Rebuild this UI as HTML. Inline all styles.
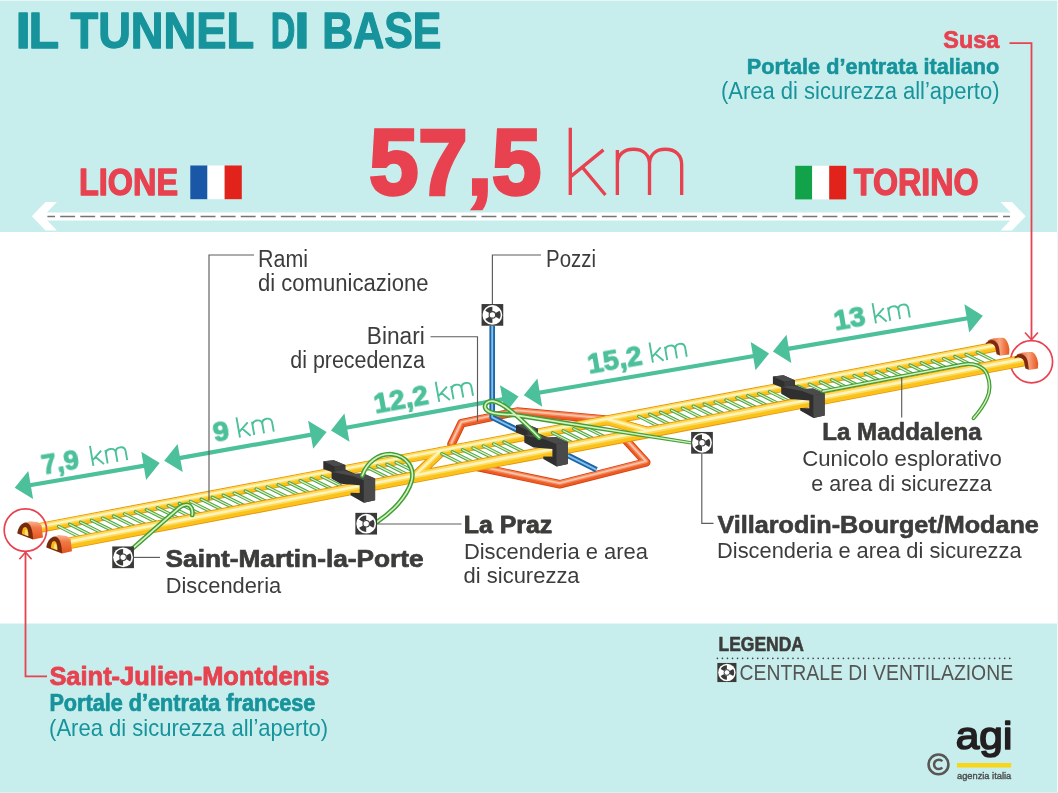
<!DOCTYPE html><html><head><meta charset="utf-8"><title>Il tunnel di base</title><style>html,body{margin:0;padding:0;background:#c7eeed;}svg{display:block}text{filter:url(#nf);font-family:"Liberation Sans",sans-serif;}</style></head><body>
<svg width="1058" height="793" viewBox="0 0 1058 793">
<defs><filter id="nf" x="-10%" y="-25%" width="120%" height="150%"><feOffset dx="0" dy="0"/></filter></defs>
<rect width="1058" height="793" fill="#c7eeed"/>
<rect x="0" y="232" width="1058" height="391.5" fill="#fff"/>
<text x="15.5" y="48.1" font-size="49.4" font-weight="bold" fill="#17939b" text-anchor="start" textLength="15.4" lengthAdjust="spacingAndGlyphs" stroke="#17939b" stroke-width="1.3" stroke-linejoin="round">I</text>
<text x="28.6" y="48.1" font-size="49.4" font-weight="bold" fill="#17939b" text-anchor="start" textLength="30.6" lengthAdjust="spacingAndGlyphs" stroke="#17939b" stroke-width="1.3" stroke-linejoin="round">L</text>
<text x="70.5" y="48.1" font-size="49.4" font-weight="bold" fill="#17939b" text-anchor="start" textLength="183.6" lengthAdjust="spacingAndGlyphs" stroke="#17939b" stroke-width="1.3" stroke-linejoin="round">TUNNEL</text>
<text x="270.8" y="48.1" font-size="49.4" font-weight="bold" fill="#17939b" text-anchor="start" textLength="24.6" lengthAdjust="spacingAndGlyphs" stroke="#17939b" stroke-width="1.3" stroke-linejoin="round">D</text>
<text x="294.2" y="48.1" font-size="49.4" font-weight="bold" fill="#17939b" text-anchor="start" textLength="15.4" lengthAdjust="spacingAndGlyphs" stroke="#17939b" stroke-width="1.3" stroke-linejoin="round">I</text>
<text x="322.3" y="48.1" font-size="49.4" font-weight="bold" fill="#17939b" text-anchor="start" textLength="119.0" lengthAdjust="spacingAndGlyphs" stroke="#17939b" stroke-width="1.3" stroke-linejoin="round">BASE</text>
<text x="999.3" y="48.2" font-size="24" font-weight="bold" fill="#e8414f" text-anchor="end" textLength="56.0" lengthAdjust="spacingAndGlyphs" stroke="#e8414f" stroke-width="0.7" stroke-linejoin="round">Susa</text>
<text x="999.3" y="73.9" font-size="22.6" font-weight="bold" fill="#17939b" text-anchor="end" textLength="252.5" lengthAdjust="spacingAndGlyphs" stroke="#17939b" stroke-width="0.6" stroke-linejoin="round">Portale d’entrata italiano</text>
<text x="999.5" y="98.5" font-size="23.5" font-weight="normal" fill="#17939b" text-anchor="end" textLength="278.5" lengthAdjust="spacingAndGlyphs">(Area di sicurezza all’aperto)</text>
<path d="M1009.5,43.2H1031.5V339" fill="none" stroke="#e8414f" stroke-width="1.8"/>
<path d="M1025,332.5L1031.5,339.8L1037.9,332.5" fill="none" stroke="#e8414f" stroke-width="1.6"/>
<circle cx="1031.5" cy="361.8" r="21.1" fill="none" stroke="#e8414f" stroke-width="1.7"/>
<text x="369.2" y="193.5" font-size="93" font-weight="bold" fill="#e8414f" text-anchor="start" textLength="172.1" lengthAdjust="spacingAndGlyphs" stroke="#e8414f" stroke-width="3.6" stroke-linejoin="miter" stroke-miterlimit="3">57,5</text>
<path d="M0,0V-100M0,-27L50,-67M18,-41.5L53,0M71,0V-67M71,-46C71,-60 81,-68 95,-68C110,-68 119.5,-60 119.5,-45V0M119.5,-45C119.5,-60 129,-68 143.5,-68C158,-68 168,-60 168,-45V0" transform="translate(570.3,195.0) rotate(0) scale(0.6629,0.6730)" fill="none" stroke="#e8414f" stroke-width="5.05" stroke-linejoin="miter"/>
<text x="79.0" y="194.9" font-size="36.2" font-weight="bold" fill="#e8414f" text-anchor="start" textLength="99.0" lengthAdjust="spacingAndGlyphs" stroke="#e8414f" stroke-width="1.3" stroke-linejoin="round">LIONE</text>
<rect x="190.3" y="165.5" width="17.2" height="33.7" fill="#1b57a7"/><rect x="207.5" y="165.5" width="17.2" height="33.7" fill="#fff"/><rect x="224.6" y="165.5" width="17.2" height="33.7" fill="#e2231b"/>
<rect x="795.2" y="165.8" width="17" height="33.6" fill="#12a24a"/><rect x="812.2" y="165.8" width="17" height="33.6" fill="#fff"/><rect x="829.2" y="165.8" width="17" height="33.6" fill="#e2231b"/>
<text x="853.8" y="194.9" font-size="36.2" font-weight="bold" fill="#e8414f" text-anchor="start" textLength="124.7" lengthAdjust="spacingAndGlyphs" stroke="#e8414f" stroke-width="1.3" stroke-linejoin="round">TORINO</text>
<path d="M42,216.5H1015" stroke="#fff" stroke-width="8.2" fill="none"/>
<path d="M31.8,216.3L45.5,202.1H56.9L43.3,216.3L56.9,230.4H45.5Z" fill="#fff"/>
<path d="M1025.7,216.3L1012,202.1H1000.6L1014.2,216.3L1000.6,230.4H1012Z" fill="#fff"/>
<path d="M47.4,216.5H1010" stroke="#757575" stroke-width="1.3" stroke-dasharray="14.9 5.16" stroke-dashoffset="7.26" fill="none"/>
<path d="M29.7,485.2L144.7,465.6" stroke="#4cc09a" stroke-width="4.2" fill="none"/>
<path d="M14.7,487.7L33.1,499.1L28.3,470.9Z" fill="#4cc09a"/>
<path d="M159.7,463.1L146.1,479.9L141.3,451.7Z" fill="#4cc09a"/>
<path d="M179.2,458.1L311.6,434.6" stroke="#4cc09a" stroke-width="4.2" fill="none"/>
<path d="M164.2,460.8L182.7,472.0L177.6,443.9Z" fill="#4cc09a"/>
<path d="M326.6,431.9L313.2,448.8L308.1,420.7Z" fill="#4cc09a"/>
<path d="M346.0,427.8L503.5,399.1" stroke="#4cc09a" stroke-width="4.2" fill="none"/>
<path d="M331.0,430.5L349.5,441.7L344.4,413.5Z" fill="#4cc09a"/>
<path d="M518.5,396.4L505.1,413.4L500.0,385.2Z" fill="#4cc09a"/>
<path d="M538.8,392.7L754.1,356.0" stroke="#4cc09a" stroke-width="4.2" fill="none"/>
<path d="M523.8,395.3L542.2,406.7L537.4,378.5Z" fill="#4cc09a"/>
<path d="M769.1,353.4L755.5,370.2L750.7,342.0Z" fill="#4cc09a"/>
<path d="M787.9,348.9L967.8,318.3" stroke="#4cc09a" stroke-width="4.2" fill="none"/>
<path d="M772.9,351.5L791.3,362.9L786.5,334.7Z" fill="#4cc09a"/>
<path d="M982.8,315.7L969.2,332.5L964.4,304.3Z" fill="#4cc09a"/>
<path d="M451.5,444.2L461.5,423.3L517,411.6L605,419.5" fill="none" stroke="#d9410f" stroke-width="8.60" stroke-linecap="round" stroke-linejoin="round"/>
<path d="M451.5,444.2L461.5,423.3L517,411.6L605,419.5" fill="none" stroke="#ed5c25" stroke-width="6.80" stroke-linecap="round" stroke-linejoin="round"/>
<path d="M451.5,444.2L461.5,423.3L517,411.6L605,419.5" fill="none" stroke="#f4875a" stroke-width="4.47" stroke-linecap="round" stroke-linejoin="round" transform="translate(-0.15,-1.20)"/>
<path d="M451.5,444.2L461.5,423.3L517,411.6L605,419.5" fill="none" stroke="#fac3a8" stroke-width="1.89" stroke-linecap="round" stroke-linejoin="round" transform="translate(-0.15,-1.20)"/>
<path d="M470.5,465.5L559.7,484.3L646.2,462.4L624,438" fill="none" stroke="#d9410f" stroke-width="8.60" stroke-linecap="round" stroke-linejoin="round"/>
<path d="M470.5,465.5L559.7,484.3L646.2,462.4L624,438" fill="none" stroke="#ed5c25" stroke-width="6.80" stroke-linecap="round" stroke-linejoin="round"/>
<path d="M470.5,465.5L559.7,484.3L646.2,462.4L624,438" fill="none" stroke="#f4875a" stroke-width="4.47" stroke-linecap="round" stroke-linejoin="round" transform="translate(-0.15,-1.20)"/>
<path d="M470.5,465.5L559.7,484.3L646.2,462.4L624,438" fill="none" stroke="#fac3a8" stroke-width="1.89" stroke-linecap="round" stroke-linejoin="round" transform="translate(-0.15,-1.20)"/>
<path d="M492.2,326V417.3L596.5,469.8" fill="none" stroke="#1b66a8" stroke-width="5.6" stroke-linejoin="round"/>
<path d="M492.2,326V417.3L596.5,469.8" fill="none" stroke="#86bfe8" stroke-width="1.9" stroke-linejoin="round"/>
<path d="M414.5,477.1L441.0,451.8" fill="none" stroke="#e5940f" stroke-width="10.00" stroke-linecap="round" stroke-linejoin="round"/>
<path d="M607.0,420.3L649.0,432.2" fill="none" stroke="#e5940f" stroke-width="10.00" stroke-linecap="round" stroke-linejoin="round"/>
<path d="M40,527.8L994,347.0" fill="none" stroke="#e5940f" stroke-width="10.00" stroke-linecap="round" stroke-linejoin="round"/>
<path d="M414.5,477.1L441.0,451.8" fill="none" stroke="#fbc21a" stroke-width="8.20" stroke-linecap="round" stroke-linejoin="round"/>
<path d="M607.0,420.3L649.0,432.2" fill="none" stroke="#fbc21a" stroke-width="8.20" stroke-linecap="round" stroke-linejoin="round"/>
<path d="M40,527.8L994,347.0" fill="none" stroke="#fbc21a" stroke-width="8.20" stroke-linecap="round" stroke-linejoin="round"/>
<path d="M414.5,477.1L441.0,451.8" fill="none" stroke="#fddc5c" stroke-width="5.20" stroke-linecap="round" stroke-linejoin="round" transform="translate(-0.15,-1.40)"/>
<path d="M607.0,420.3L649.0,432.2" fill="none" stroke="#fddc5c" stroke-width="5.20" stroke-linecap="round" stroke-linejoin="round" transform="translate(-0.15,-1.40)"/>
<path d="M40,527.8L994,347.0" fill="none" stroke="#fddc5c" stroke-width="5.20" stroke-linecap="round" stroke-linejoin="round" transform="translate(-0.15,-1.40)"/>
<path d="M414.5,477.1L441.0,451.8" fill="none" stroke="#fff4bf" stroke-width="2.20" stroke-linecap="round" stroke-linejoin="round" transform="translate(-0.15,-1.40)"/>
<path d="M607.0,420.3L649.0,432.2" fill="none" stroke="#fff4bf" stroke-width="2.20" stroke-linecap="round" stroke-linejoin="round" transform="translate(-0.15,-1.40)"/>
<path d="M40,527.8L994,347.0" fill="none" stroke="#fff4bf" stroke-width="2.20" stroke-linecap="round" stroke-linejoin="round" transform="translate(-0.15,-1.40)"/>
<path d="M58.5,526.4L85.8,540.1" fill="none" stroke="#4fa843" stroke-width="3.3" stroke-linecap="round" stroke-linejoin="round"/>
<path d="M58.5,526.4L85.8,540.1" fill="none" stroke="#e0f2cc" stroke-width="1.19" stroke-linecap="round" stroke-linejoin="round"/>
<path d="M69.5,524.3L96.8,538.0" fill="none" stroke="#4fa843" stroke-width="3.3" stroke-linecap="round" stroke-linejoin="round"/>
<path d="M69.5,524.3L96.8,538.0" fill="none" stroke="#e0f2cc" stroke-width="1.19" stroke-linecap="round" stroke-linejoin="round"/>
<path d="M80.5,522.2L107.7,535.9" fill="none" stroke="#4fa843" stroke-width="3.3" stroke-linecap="round" stroke-linejoin="round"/>
<path d="M80.5,522.2L107.7,535.9" fill="none" stroke="#e0f2cc" stroke-width="1.19" stroke-linecap="round" stroke-linejoin="round"/>
<path d="M91.4,520.2L118.7,533.8" fill="none" stroke="#4fa843" stroke-width="3.3" stroke-linecap="round" stroke-linejoin="round"/>
<path d="M91.4,520.2L118.7,533.8" fill="none" stroke="#e0f2cc" stroke-width="1.19" stroke-linecap="round" stroke-linejoin="round"/>
<path d="M102.4,518.1L129.6,531.7" fill="none" stroke="#4fa843" stroke-width="3.3" stroke-linecap="round" stroke-linejoin="round"/>
<path d="M102.4,518.1L129.6,531.7" fill="none" stroke="#e0f2cc" stroke-width="1.19" stroke-linecap="round" stroke-linejoin="round"/>
<path d="M113.4,516.0L140.6,529.6" fill="none" stroke="#4fa843" stroke-width="3.3" stroke-linecap="round" stroke-linejoin="round"/>
<path d="M113.4,516.0L140.6,529.6" fill="none" stroke="#e0f2cc" stroke-width="1.19" stroke-linecap="round" stroke-linejoin="round"/>
<path d="M124.4,513.9L151.5,527.5" fill="none" stroke="#4fa843" stroke-width="3.3" stroke-linecap="round" stroke-linejoin="round"/>
<path d="M124.4,513.9L151.5,527.5" fill="none" stroke="#e0f2cc" stroke-width="1.19" stroke-linecap="round" stroke-linejoin="round"/>
<path d="M135.4,511.8L162.5,525.4" fill="none" stroke="#4fa843" stroke-width="3.3" stroke-linecap="round" stroke-linejoin="round"/>
<path d="M135.4,511.8L162.5,525.4" fill="none" stroke="#e0f2cc" stroke-width="1.19" stroke-linecap="round" stroke-linejoin="round"/>
<path d="M146.3,509.8L173.4,523.3" fill="none" stroke="#4fa843" stroke-width="3.3" stroke-linecap="round" stroke-linejoin="round"/>
<path d="M146.3,509.8L173.4,523.3" fill="none" stroke="#e0f2cc" stroke-width="1.19" stroke-linecap="round" stroke-linejoin="round"/>
<path d="M157.3,507.7L184.4,521.2" fill="none" stroke="#4fa843" stroke-width="3.3" stroke-linecap="round" stroke-linejoin="round"/>
<path d="M157.3,507.7L184.4,521.2" fill="none" stroke="#e0f2cc" stroke-width="1.19" stroke-linecap="round" stroke-linejoin="round"/>
<path d="M168.3,505.6L195.3,519.1" fill="none" stroke="#4fa843" stroke-width="3.3" stroke-linecap="round" stroke-linejoin="round"/>
<path d="M168.3,505.6L195.3,519.1" fill="none" stroke="#e0f2cc" stroke-width="1.19" stroke-linecap="round" stroke-linejoin="round"/>
<path d="M179.3,503.5L206.3,517.0" fill="none" stroke="#4fa843" stroke-width="3.3" stroke-linecap="round" stroke-linejoin="round"/>
<path d="M179.3,503.5L206.3,517.0" fill="none" stroke="#e0f2cc" stroke-width="1.19" stroke-linecap="round" stroke-linejoin="round"/>
<path d="M190.3,501.4L217.2,514.9" fill="none" stroke="#4fa843" stroke-width="3.3" stroke-linecap="round" stroke-linejoin="round"/>
<path d="M190.3,501.4L217.2,514.9" fill="none" stroke="#e0f2cc" stroke-width="1.19" stroke-linecap="round" stroke-linejoin="round"/>
<path d="M201.2,499.3L228.2,512.8" fill="none" stroke="#4fa843" stroke-width="3.3" stroke-linecap="round" stroke-linejoin="round"/>
<path d="M201.2,499.3L228.2,512.8" fill="none" stroke="#e0f2cc" stroke-width="1.19" stroke-linecap="round" stroke-linejoin="round"/>
<path d="M212.2,497.3L239.1,510.7" fill="none" stroke="#4fa843" stroke-width="3.3" stroke-linecap="round" stroke-linejoin="round"/>
<path d="M212.2,497.3L239.1,510.7" fill="none" stroke="#e0f2cc" stroke-width="1.19" stroke-linecap="round" stroke-linejoin="round"/>
<path d="M223.2,495.2L250.1,508.6" fill="none" stroke="#4fa843" stroke-width="3.3" stroke-linecap="round" stroke-linejoin="round"/>
<path d="M223.2,495.2L250.1,508.6" fill="none" stroke="#e0f2cc" stroke-width="1.19" stroke-linecap="round" stroke-linejoin="round"/>
<path d="M234.2,493.1L261.0,506.5" fill="none" stroke="#4fa843" stroke-width="3.3" stroke-linecap="round" stroke-linejoin="round"/>
<path d="M234.2,493.1L261.0,506.5" fill="none" stroke="#e0f2cc" stroke-width="1.19" stroke-linecap="round" stroke-linejoin="round"/>
<path d="M245.2,491.0L272.0,504.4" fill="none" stroke="#4fa843" stroke-width="3.3" stroke-linecap="round" stroke-linejoin="round"/>
<path d="M245.2,491.0L272.0,504.4" fill="none" stroke="#e0f2cc" stroke-width="1.19" stroke-linecap="round" stroke-linejoin="round"/>
<path d="M256.1,488.9L282.9,502.3" fill="none" stroke="#4fa843" stroke-width="3.3" stroke-linecap="round" stroke-linejoin="round"/>
<path d="M256.1,488.9L282.9,502.3" fill="none" stroke="#e0f2cc" stroke-width="1.19" stroke-linecap="round" stroke-linejoin="round"/>
<path d="M267.1,486.9L293.9,500.2" fill="none" stroke="#4fa843" stroke-width="3.3" stroke-linecap="round" stroke-linejoin="round"/>
<path d="M267.1,486.9L293.9,500.2" fill="none" stroke="#e0f2cc" stroke-width="1.19" stroke-linecap="round" stroke-linejoin="round"/>
<path d="M278.1,484.8L304.8,498.1" fill="none" stroke="#4fa843" stroke-width="3.3" stroke-linecap="round" stroke-linejoin="round"/>
<path d="M278.1,484.8L304.8,498.1" fill="none" stroke="#e0f2cc" stroke-width="1.19" stroke-linecap="round" stroke-linejoin="round"/>
<path d="M289.1,482.7L315.8,496.0" fill="none" stroke="#4fa843" stroke-width="3.3" stroke-linecap="round" stroke-linejoin="round"/>
<path d="M289.1,482.7L315.8,496.0" fill="none" stroke="#e0f2cc" stroke-width="1.19" stroke-linecap="round" stroke-linejoin="round"/>
<path d="M300.1,480.6L326.7,493.9" fill="none" stroke="#4fa843" stroke-width="3.3" stroke-linecap="round" stroke-linejoin="round"/>
<path d="M300.1,480.6L326.7,493.9" fill="none" stroke="#e0f2cc" stroke-width="1.19" stroke-linecap="round" stroke-linejoin="round"/>
<path d="M311.0,478.5L337.7,491.8" fill="none" stroke="#4fa843" stroke-width="3.3" stroke-linecap="round" stroke-linejoin="round"/>
<path d="M311.0,478.5L337.7,491.8" fill="none" stroke="#e0f2cc" stroke-width="1.19" stroke-linecap="round" stroke-linejoin="round"/>
<path d="M322.0,476.4L348.6,489.7" fill="none" stroke="#4fa843" stroke-width="3.3" stroke-linecap="round" stroke-linejoin="round"/>
<path d="M322.0,476.4L348.6,489.7" fill="none" stroke="#e0f2cc" stroke-width="1.19" stroke-linecap="round" stroke-linejoin="round"/>
<path d="M368.0,467.7L394.5,481.0" fill="none" stroke="#4fa843" stroke-width="3.3" stroke-linecap="round" stroke-linejoin="round"/>
<path d="M368.0,467.7L394.5,481.0" fill="none" stroke="#e0f2cc" stroke-width="1.19" stroke-linecap="round" stroke-linejoin="round"/>
<path d="M377.5,465.9L403.9,479.1" fill="none" stroke="#4fa843" stroke-width="3.3" stroke-linecap="round" stroke-linejoin="round"/>
<path d="M377.5,465.9L403.9,479.1" fill="none" stroke="#e0f2cc" stroke-width="1.19" stroke-linecap="round" stroke-linejoin="round"/>
<path d="M386.8,464.2L413.2,477.4" fill="none" stroke="#4fa843" stroke-width="3.3" stroke-linecap="round" stroke-linejoin="round"/>
<path d="M386.8,464.2L413.2,477.4" fill="none" stroke="#e0f2cc" stroke-width="1.19" stroke-linecap="round" stroke-linejoin="round"/>
<path d="M396.0,462.4L422.4,475.6" fill="none" stroke="#4fa843" stroke-width="3.3" stroke-linecap="round" stroke-linejoin="round"/>
<path d="M396.0,462.4L422.4,475.6" fill="none" stroke="#e0f2cc" stroke-width="1.19" stroke-linecap="round" stroke-linejoin="round"/>
<path d="M441.8,453.7L468.1,466.9" fill="none" stroke="#4fa843" stroke-width="3.3" stroke-linecap="round" stroke-linejoin="round"/>
<path d="M441.8,453.7L468.1,466.9" fill="none" stroke="#e0f2cc" stroke-width="1.19" stroke-linecap="round" stroke-linejoin="round"/>
<path d="M452.2,451.8L478.4,464.9" fill="none" stroke="#4fa843" stroke-width="3.3" stroke-linecap="round" stroke-linejoin="round"/>
<path d="M452.2,451.8L478.4,464.9" fill="none" stroke="#e0f2cc" stroke-width="1.19" stroke-linecap="round" stroke-linejoin="round"/>
<path d="M462.5,449.8L488.7,462.9" fill="none" stroke="#4fa843" stroke-width="3.3" stroke-linecap="round" stroke-linejoin="round"/>
<path d="M462.5,449.8L488.7,462.9" fill="none" stroke="#e0f2cc" stroke-width="1.19" stroke-linecap="round" stroke-linejoin="round"/>
<path d="M472.9,447.9L499.0,460.9" fill="none" stroke="#4fa843" stroke-width="3.3" stroke-linecap="round" stroke-linejoin="round"/>
<path d="M472.9,447.9L499.0,460.9" fill="none" stroke="#e0f2cc" stroke-width="1.19" stroke-linecap="round" stroke-linejoin="round"/>
<path d="M483.2,445.9L509.3,459.0" fill="none" stroke="#4fa843" stroke-width="3.3" stroke-linecap="round" stroke-linejoin="round"/>
<path d="M483.2,445.9L509.3,459.0" fill="none" stroke="#e0f2cc" stroke-width="1.19" stroke-linecap="round" stroke-linejoin="round"/>
<path d="M493.6,443.9L519.7,457.0" fill="none" stroke="#4fa843" stroke-width="3.3" stroke-linecap="round" stroke-linejoin="round"/>
<path d="M493.6,443.9L519.7,457.0" fill="none" stroke="#e0f2cc" stroke-width="1.19" stroke-linecap="round" stroke-linejoin="round"/>
<path d="M503.9,442.0L530.0,455.0" fill="none" stroke="#4fa843" stroke-width="3.3" stroke-linecap="round" stroke-linejoin="round"/>
<path d="M503.9,442.0L530.0,455.0" fill="none" stroke="#e0f2cc" stroke-width="1.19" stroke-linecap="round" stroke-linejoin="round"/>
<path d="M552.5,432.8L578.4,445.7" fill="none" stroke="#4fa843" stroke-width="3.3" stroke-linecap="round" stroke-linejoin="round"/>
<path d="M552.5,432.8L578.4,445.7" fill="none" stroke="#e0f2cc" stroke-width="1.19" stroke-linecap="round" stroke-linejoin="round"/>
<path d="M563.1,430.7L589.0,443.7" fill="none" stroke="#4fa843" stroke-width="3.3" stroke-linecap="round" stroke-linejoin="round"/>
<path d="M563.1,430.7L589.0,443.7" fill="none" stroke="#e0f2cc" stroke-width="1.19" stroke-linecap="round" stroke-linejoin="round"/>
<path d="M573.7,428.7L599.6,441.7" fill="none" stroke="#4fa843" stroke-width="3.3" stroke-linecap="round" stroke-linejoin="round"/>
<path d="M573.7,428.7L599.6,441.7" fill="none" stroke="#e0f2cc" stroke-width="1.19" stroke-linecap="round" stroke-linejoin="round"/>
<path d="M584.3,426.7L610.2,439.6" fill="none" stroke="#4fa843" stroke-width="3.3" stroke-linecap="round" stroke-linejoin="round"/>
<path d="M584.3,426.7L610.2,439.6" fill="none" stroke="#e0f2cc" stroke-width="1.19" stroke-linecap="round" stroke-linejoin="round"/>
<path d="M638.7,416.4L664.4,429.3" fill="none" stroke="#4fa843" stroke-width="3.3" stroke-linecap="round" stroke-linejoin="round"/>
<path d="M638.7,416.4L664.4,429.3" fill="none" stroke="#e0f2cc" stroke-width="1.19" stroke-linecap="round" stroke-linejoin="round"/>
<path d="M649.6,414.3L675.3,427.2" fill="none" stroke="#4fa843" stroke-width="3.3" stroke-linecap="round" stroke-linejoin="round"/>
<path d="M649.6,414.3L675.3,427.2" fill="none" stroke="#e0f2cc" stroke-width="1.19" stroke-linecap="round" stroke-linejoin="round"/>
<path d="M660.5,412.3L686.1,425.1" fill="none" stroke="#4fa843" stroke-width="3.3" stroke-linecap="round" stroke-linejoin="round"/>
<path d="M660.5,412.3L686.1,425.1" fill="none" stroke="#e0f2cc" stroke-width="1.19" stroke-linecap="round" stroke-linejoin="round"/>
<path d="M671.4,410.2L697.0,423.0" fill="none" stroke="#4fa843" stroke-width="3.3" stroke-linecap="round" stroke-linejoin="round"/>
<path d="M671.4,410.2L697.0,423.0" fill="none" stroke="#e0f2cc" stroke-width="1.19" stroke-linecap="round" stroke-linejoin="round"/>
<path d="M682.3,408.1L707.9,420.9" fill="none" stroke="#4fa843" stroke-width="3.3" stroke-linecap="round" stroke-linejoin="round"/>
<path d="M682.3,408.1L707.9,420.9" fill="none" stroke="#e0f2cc" stroke-width="1.19" stroke-linecap="round" stroke-linejoin="round"/>
<path d="M693.2,406.1L718.7,418.8" fill="none" stroke="#4fa843" stroke-width="3.3" stroke-linecap="round" stroke-linejoin="round"/>
<path d="M693.2,406.1L718.7,418.8" fill="none" stroke="#e0f2cc" stroke-width="1.19" stroke-linecap="round" stroke-linejoin="round"/>
<path d="M704.1,404.0L729.6,416.8" fill="none" stroke="#4fa843" stroke-width="3.3" stroke-linecap="round" stroke-linejoin="round"/>
<path d="M704.1,404.0L729.6,416.8" fill="none" stroke="#e0f2cc" stroke-width="1.19" stroke-linecap="round" stroke-linejoin="round"/>
<path d="M715.0,401.9L740.5,414.7" fill="none" stroke="#4fa843" stroke-width="3.3" stroke-linecap="round" stroke-linejoin="round"/>
<path d="M715.0,401.9L740.5,414.7" fill="none" stroke="#e0f2cc" stroke-width="1.19" stroke-linecap="round" stroke-linejoin="round"/>
<path d="M725.9,399.9L751.4,412.6" fill="none" stroke="#4fa843" stroke-width="3.3" stroke-linecap="round" stroke-linejoin="round"/>
<path d="M725.9,399.9L751.4,412.6" fill="none" stroke="#e0f2cc" stroke-width="1.19" stroke-linecap="round" stroke-linejoin="round"/>
<path d="M736.8,397.8L762.2,410.5" fill="none" stroke="#4fa843" stroke-width="3.3" stroke-linecap="round" stroke-linejoin="round"/>
<path d="M736.8,397.8L762.2,410.5" fill="none" stroke="#e0f2cc" stroke-width="1.19" stroke-linecap="round" stroke-linejoin="round"/>
<path d="M747.7,395.7L773.1,408.4" fill="none" stroke="#4fa843" stroke-width="3.3" stroke-linecap="round" stroke-linejoin="round"/>
<path d="M747.7,395.7L773.1,408.4" fill="none" stroke="#e0f2cc" stroke-width="1.19" stroke-linecap="round" stroke-linejoin="round"/>
<path d="M758.6,393.7L784.0,406.4" fill="none" stroke="#4fa843" stroke-width="3.3" stroke-linecap="round" stroke-linejoin="round"/>
<path d="M758.6,393.7L784.0,406.4" fill="none" stroke="#e0f2cc" stroke-width="1.19" stroke-linecap="round" stroke-linejoin="round"/>
<path d="M769.5,391.6L794.8,404.3" fill="none" stroke="#4fa843" stroke-width="3.3" stroke-linecap="round" stroke-linejoin="round"/>
<path d="M769.5,391.6L794.8,404.3" fill="none" stroke="#e0f2cc" stroke-width="1.19" stroke-linecap="round" stroke-linejoin="round"/>
<path d="M798.0,386.2L823.3,398.8" fill="none" stroke="#4fa843" stroke-width="3.3" stroke-linecap="round" stroke-linejoin="round"/>
<path d="M798.0,386.2L823.3,398.8" fill="none" stroke="#e0f2cc" stroke-width="1.19" stroke-linecap="round" stroke-linejoin="round"/>
<path d="M809.2,384.1L834.4,396.7" fill="none" stroke="#4fa843" stroke-width="3.3" stroke-linecap="round" stroke-linejoin="round"/>
<path d="M809.2,384.1L834.4,396.7" fill="none" stroke="#e0f2cc" stroke-width="1.19" stroke-linecap="round" stroke-linejoin="round"/>
<path d="M820.4,382.0L845.6,394.6" fill="none" stroke="#4fa843" stroke-width="3.3" stroke-linecap="round" stroke-linejoin="round"/>
<path d="M820.4,382.0L845.6,394.6" fill="none" stroke="#e0f2cc" stroke-width="1.19" stroke-linecap="round" stroke-linejoin="round"/>
<path d="M831.6,379.8L856.8,392.4" fill="none" stroke="#4fa843" stroke-width="3.3" stroke-linecap="round" stroke-linejoin="round"/>
<path d="M831.6,379.8L856.8,392.4" fill="none" stroke="#e0f2cc" stroke-width="1.19" stroke-linecap="round" stroke-linejoin="round"/>
<path d="M842.8,377.7L867.9,390.3" fill="none" stroke="#4fa843" stroke-width="3.3" stroke-linecap="round" stroke-linejoin="round"/>
<path d="M842.8,377.7L867.9,390.3" fill="none" stroke="#e0f2cc" stroke-width="1.19" stroke-linecap="round" stroke-linejoin="round"/>
<path d="M854.0,375.6L879.1,388.1" fill="none" stroke="#4fa843" stroke-width="3.3" stroke-linecap="round" stroke-linejoin="round"/>
<path d="M854.0,375.6L879.1,388.1" fill="none" stroke="#e0f2cc" stroke-width="1.19" stroke-linecap="round" stroke-linejoin="round"/>
<path d="M865.2,373.5L890.3,386.0" fill="none" stroke="#4fa843" stroke-width="3.3" stroke-linecap="round" stroke-linejoin="round"/>
<path d="M865.2,373.5L890.3,386.0" fill="none" stroke="#e0f2cc" stroke-width="1.19" stroke-linecap="round" stroke-linejoin="round"/>
<path d="M876.4,371.3L901.4,383.9" fill="none" stroke="#4fa843" stroke-width="3.3" stroke-linecap="round" stroke-linejoin="round"/>
<path d="M876.4,371.3L901.4,383.9" fill="none" stroke="#e0f2cc" stroke-width="1.19" stroke-linecap="round" stroke-linejoin="round"/>
<path d="M887.6,369.2L912.6,381.7" fill="none" stroke="#4fa843" stroke-width="3.3" stroke-linecap="round" stroke-linejoin="round"/>
<path d="M887.6,369.2L912.6,381.7" fill="none" stroke="#e0f2cc" stroke-width="1.19" stroke-linecap="round" stroke-linejoin="round"/>
<path d="M898.8,367.1L923.8,379.6" fill="none" stroke="#4fa843" stroke-width="3.3" stroke-linecap="round" stroke-linejoin="round"/>
<path d="M898.8,367.1L923.8,379.6" fill="none" stroke="#e0f2cc" stroke-width="1.19" stroke-linecap="round" stroke-linejoin="round"/>
<path d="M910.0,365.0L934.9,377.4" fill="none" stroke="#4fa843" stroke-width="3.3" stroke-linecap="round" stroke-linejoin="round"/>
<path d="M910.0,365.0L934.9,377.4" fill="none" stroke="#e0f2cc" stroke-width="1.19" stroke-linecap="round" stroke-linejoin="round"/>
<path d="M921.2,362.8L946.1,375.3" fill="none" stroke="#4fa843" stroke-width="3.3" stroke-linecap="round" stroke-linejoin="round"/>
<path d="M921.2,362.8L946.1,375.3" fill="none" stroke="#e0f2cc" stroke-width="1.19" stroke-linecap="round" stroke-linejoin="round"/>
<path d="M932.4,360.7L957.3,373.2" fill="none" stroke="#4fa843" stroke-width="3.3" stroke-linecap="round" stroke-linejoin="round"/>
<path d="M932.4,360.7L957.3,373.2" fill="none" stroke="#e0f2cc" stroke-width="1.19" stroke-linecap="round" stroke-linejoin="round"/>
<path d="M943.6,358.6L968.4,371.0" fill="none" stroke="#4fa843" stroke-width="3.3" stroke-linecap="round" stroke-linejoin="round"/>
<path d="M943.6,358.6L968.4,371.0" fill="none" stroke="#e0f2cc" stroke-width="1.19" stroke-linecap="round" stroke-linejoin="round"/>
<path d="M954.8,356.5L979.6,368.9" fill="none" stroke="#4fa843" stroke-width="3.3" stroke-linecap="round" stroke-linejoin="round"/>
<path d="M954.8,356.5L979.6,368.9" fill="none" stroke="#e0f2cc" stroke-width="1.19" stroke-linecap="round" stroke-linejoin="round"/>
<path d="M966.0,354.4L990.8,366.7" fill="none" stroke="#4fa843" stroke-width="3.3" stroke-linecap="round" stroke-linejoin="round"/>
<path d="M966.0,354.4L990.8,366.7" fill="none" stroke="#e0f2cc" stroke-width="1.19" stroke-linecap="round" stroke-linejoin="round"/>
<path d="M977.2,352.2L1001.9,364.6" fill="none" stroke="#4fa843" stroke-width="3.3" stroke-linecap="round" stroke-linejoin="round"/>
<path d="M977.2,352.2L1001.9,364.6" fill="none" stroke="#e0f2cc" stroke-width="1.19" stroke-linecap="round" stroke-linejoin="round"/>
<path d="M414.5,477.1L429.1,463.2" fill="none" stroke="#e5940f" stroke-width="10.00" stroke-linecap="butt" stroke-linejoin="round"/>
<path d="M625.9,425.7L649.0,432.2" fill="none" stroke="#e5940f" stroke-width="10.00" stroke-linecap="butt" stroke-linejoin="round"/>
<path d="M68,543.5L1023,360.6" fill="none" stroke="#e5940f" stroke-width="11.80" stroke-linecap="round" stroke-linejoin="round"/>
<path d="M414.5,477.1L429.1,463.2" fill="none" stroke="#fbc21a" stroke-width="8.20" stroke-linecap="butt" stroke-linejoin="round"/>
<path d="M625.9,425.7L649.0,432.2" fill="none" stroke="#fbc21a" stroke-width="8.20" stroke-linecap="butt" stroke-linejoin="round"/>
<path d="M68,543.5L1023,360.6" fill="none" stroke="#fbc21a" stroke-width="10.00" stroke-linecap="round" stroke-linejoin="round"/>
<path d="M414.5,477.1L429.1,463.2" fill="none" stroke="#fddc5c" stroke-width="5.20" stroke-linecap="butt" stroke-linejoin="round" transform="translate(-0.15,-1.40)"/>
<path d="M625.9,425.7L649.0,432.2" fill="none" stroke="#fddc5c" stroke-width="5.20" stroke-linecap="butt" stroke-linejoin="round" transform="translate(-0.15,-1.40)"/>
<path d="M68,543.5L1023,360.6" fill="none" stroke="#fddc5c" stroke-width="6.14" stroke-linecap="round" stroke-linejoin="round" transform="translate(-0.15,-1.65)"/>
<path d="M414.5,477.1L429.1,463.2" fill="none" stroke="#fff4bf" stroke-width="2.20" stroke-linecap="butt" stroke-linejoin="round" transform="translate(-0.15,-1.40)"/>
<path d="M625.9,425.7L649.0,432.2" fill="none" stroke="#fff4bf" stroke-width="2.20" stroke-linecap="butt" stroke-linejoin="round" transform="translate(-0.15,-1.40)"/>
<path d="M68,543.5L1023,360.6" fill="none" stroke="#fff4bf" stroke-width="2.60" stroke-linecap="round" stroke-linejoin="round" transform="translate(-0.15,-1.65)"/>
<defs><linearGradient id="pg" x1="0" x2="1" y1="0" y2="0"><stop offset="0" stop-color="#e2501c"/><stop offset=".55" stop-color="#f7a580"/><stop offset=".75" stop-color="#f08050"/><stop offset="1" stop-color="#e8561f"/></linearGradient><linearGradient id="pl" x1="0" x2="0" y1="0" y2="1"><stop offset="0" stop-color="#f9b596"/><stop offset=".35" stop-color="#f07a48"/><stop offset="1" stop-color="#e4521f"/></linearGradient></defs>
<g transform="translate(0.0,0.0)">
<path d="M25.9,522.6L29.6,521.2L37.8,522L41.6,525.6L43,537.4L33,539.5L31,530L29,524.8Z" fill="url(#pl)"/>
<path d="M17.3,533.6C17.6,528.5 21,522.8 25.9,522.5C30.5,522.8 32.8,530 33.1,539.5Z" fill="#7a2a0c"/>
<path d="M22,534C22,529.8 23.2,527.2 25.2,527.1C27.3,527.4 28.4,530.6 28.5,536.3Z" fill="#f5b915"/>
<path d="M24.8,534.7C24.8,531.2 25.4,529.3 26.3,529.4C27.4,529.8 27.9,532 28,536Z" fill="#fff2a6" opacity=".75"/>
</g>
<g transform="translate(29.0,13.9)">
<path d="M25.9,522.6L29.6,521.2L37.8,522L41.6,525.6L43,537.4L33,539.5L31,530L29,524.8Z" fill="url(#pl)"/>
<path d="M17.3,533.6C17.6,528.5 21,522.8 25.9,522.5C30.5,522.8 32.8,530 33.1,539.5Z" fill="#7a2a0c"/>
<path d="M22,534C22,529.8 23.2,527.2 25.2,527.1C27.3,527.4 28.4,530.6 28.5,536.3Z" fill="#f5b915"/>
<path d="M24.8,534.7C24.8,531.2 25.4,529.3 26.3,529.4C27.4,529.8 27.9,532 28,536Z" fill="#fff2a6" opacity=".75"/>
</g>
<g transform="translate(0.0,0.0)">
<path d="M987.9,340.8C990,338.6 996,337.6 1003.3,337.8C1006,338.6 1008.6,343 1009.4,349.2L1009.1,354.4L1000,355.8L996,346Z" fill="url(#pg)"/>
<path d="M985.3,344.4C986,342 988.6,340.1 991.7,339.9C996,340.2 998.6,344 999.2,348.5L1000.1,355.6L996.6,354.3L995.2,347.2C994.6,345 992.6,343.4 990,343.2C988,343.2 986.4,343.8 985.3,344.4Z" fill="#7e2a10"/>
</g>
<g transform="translate(28.8,14.2)">
<path d="M987.9,340.8C990,338.6 996,337.6 1003.3,337.8C1006,338.6 1008.6,343 1009.4,349.2L1009.1,354.4L1000,355.8L996,346Z" fill="url(#pg)"/>
<path d="M985.3,344.4C986,342 988.6,340.1 991.7,339.9C996,340.2 998.6,344 999.2,348.5L1000.1,355.6L996.6,354.3L995.2,347.2C994.6,345 992.6,343.4 990,343.2C988,343.2 986.4,343.8 985.3,344.4Z" fill="#7e2a10"/>
</g>
<g transform="translate(323.3,461.3)">
<path d="M0,0L10.6,-1.1L22,3.8V8.3L31.8,12.5L40.2,12.1L51.8,17.2V39L40.5,41.5L27.3,34L27.3,31.5L36.4,31.8V24L17.4,22.5L8.3,17.4V10.8L0,7.6Z" fill="#2f2f2f"/>
<path d="M0,0L10.6,-1.1L22,3.8L11.4,5.2Z" fill="#4b4b4b"/>
<path d="M8.6,10.6L20,8.8L31.8,12.5L40.2,12.1L51.8,17.2L40.4,18.9L29,14.6Z" fill="#4b4b4b"/>
<path d="M11.4,5.2L22,3.8V8.6L11.4,10.2Z" fill="#3c3c3c"/>
<path d="M40.4,18.9L51.8,17.2V39L40.5,41.5Z" fill="#4a4a4a"/>
</g>
<g transform="translate(516.0,425.0)">
<path d="M0,0L10.6,-1.1L22,3.8V8.3L31.8,12.5L40.2,12.1L51.8,17.2V39L40.5,41.5L27.3,34L27.3,31.5L36.4,31.8V24L17.4,22.5L8.3,17.4V10.8L0,7.6Z" fill="#2f2f2f"/>
<path d="M0,0L10.6,-1.1L22,3.8L11.4,5.2Z" fill="#4b4b4b"/>
<path d="M8.6,10.6L20,8.8L31.8,12.5L40.2,12.1L51.8,17.2L40.4,18.9L29,14.6Z" fill="#4b4b4b"/>
<path d="M11.4,5.2L22,3.8V8.6L11.4,10.2Z" fill="#3c3c3c"/>
<path d="M40.4,18.9L51.8,17.2V39L40.5,41.5Z" fill="#4a4a4a"/>
</g>
<g transform="translate(772.9,376.4)">
<path d="M0,0L10.6,-1.1L22,3.8V8.3L31.8,12.5L40.2,12.1L51.8,17.2V39L40.5,41.5L27.3,34L27.3,31.5L36.4,31.8V24L17.4,22.5L8.3,17.4V10.8L0,7.6Z" fill="#2f2f2f"/>
<path d="M0,0L10.6,-1.1L22,3.8L11.4,5.2Z" fill="#4b4b4b"/>
<path d="M8.6,10.6L20,8.8L31.8,12.5L40.2,12.1L51.8,17.2L40.4,18.9L29,14.6Z" fill="#4b4b4b"/>
<path d="M11.4,5.2L22,3.8V8.6L11.4,10.2Z" fill="#3c3c3c"/>
<path d="M40.4,18.9L51.8,17.2V39L40.5,41.5Z" fill="#4a4a4a"/>
</g>
<path d="M132.5,548.6C149,534 166,519 179.5,507.5C184.5,503.5 189.5,504 191.5,508C192.6,510.5 192.6,513 192.2,515" fill="none" stroke="#3e9f35" stroke-width="4.6" stroke-linecap="round" stroke-linejoin="round"/>
<path d="M132.5,548.6C149,534 166,519 179.5,507.5C184.5,503.5 189.5,504 191.5,508C192.6,510.5 192.6,513 192.2,515" fill="none" stroke="#d9efc0" stroke-width="1.66" stroke-linecap="round" stroke-linejoin="round"/>
<path d="M377,522C392,512 407,497 411.6,481C415,468 407,456 392,454.2C378,453 366.5,463 362.3,475.6" fill="none" stroke="#3e9f35" stroke-width="4.6" stroke-linecap="round" stroke-linejoin="round"/>
<path d="M377,522C392,512 407,497 411.6,481C415,468 407,456 392,454.2C378,453 366.5,463 362.3,475.6" fill="none" stroke="#d9efc0" stroke-width="1.66" stroke-linecap="round" stroke-linejoin="round"/>
<path d="M539.2,437.5C531,429 522,420 512.7,412.5C505,406 498,402 493,401.2C488,400.8 484.5,403.5 485.1,407.2C485.6,410.5 490,413.3 500.6,414.1C506,414.4 511,414.6 515.7,415.1L560,422.1" fill="none" stroke="#3e9f35" stroke-width="4.8" stroke-linecap="round" stroke-linejoin="round"/>
<path d="M539.2,437.5C531,429 522,420 512.7,412.5C505,406 498,402 493,401.2C488,400.8 484.5,403.5 485.1,407.2C485.6,410.5 490,413.3 500.6,414.1C506,414.4 511,414.6 515.7,415.1L560,422.1" fill="none" stroke="#d9efc0" stroke-width="1.73" stroke-linecap="round" stroke-linejoin="round"/>
<path d="M557.63,424.15L691.25,444.43L691.75,441.27L558.37,419.41Z" fill="#3e9f35"/>
<path d="M557.87,422.63L691.41,443.42L691.59,442.28L558.13,420.92Z" fill="#d9efc0"/>
<path d="M823,391.3L962,364.7C972,362.8 983.5,365 987.3,375C990.5,383.5 990,392 986.9,398.5C984,405 979,412 973.5,418.2" fill="none" stroke="#3e9f35" stroke-width="3.9" stroke-linecap="round" stroke-linejoin="round"/>
<path d="M823,391.3L962,364.7C972,362.8 983.5,365 987.3,375C990.5,383.5 990,392 986.9,398.5C984,405 979,412 973.5,418.2" fill="none" stroke="#d9efc0" stroke-width="1.40" stroke-linecap="round" stroke-linejoin="round"/>
<path d="M254,255H209V500.3" fill="none" stroke="#5c5c5c" stroke-width="1.15"/>
<path d="M430.5,336.7H477.5V421.5" fill="none" stroke="#5c5c5c" stroke-width="1.15"/>
<path d="M541,255H492.4V305" fill="none" stroke="#5c5c5c" stroke-width="1.15"/>
<g transform="translate(123.1,557.3) scale(1.000)">
<rect x="-10.85" y="-10.85" width="21.7" height="21.7" fill="#3a3a39"/>
<circle r="9.9" fill="#fff"/>
<path d="M3.12,-1.80 L7.10,-4.10 A8.2,8.2 0 0 1 7.10,4.10 L3.12,1.80 A3.6,3.6 0 0 0 3.12,-1.80Z" fill="#3a3a39"/>
<path d="M0.00,3.60 L0.00,8.20 A8.2,8.2 0 0 1 -7.10,4.10 L-3.12,1.80 A3.6,3.6 0 0 0 0.00,3.60Z" fill="#3a3a39"/>
<path d="M-3.12,-1.80 L-7.10,-4.10 A8.2,8.2 0 0 1 -0.00,-8.20 L-0.00,-3.60 A3.6,3.6 0 0 0 -3.12,-1.80Z" fill="#3a3a39"/>
<circle r="3.25" fill="#fff" stroke="#3a3a39" stroke-width="1.1"/>
</g>
<g transform="translate(366.2,523.7) scale(1.000)">
<rect x="-10.85" y="-10.85" width="21.7" height="21.7" fill="#3a3a39"/>
<circle r="9.9" fill="#fff"/>
<path d="M3.12,-1.80 L7.10,-4.10 A8.2,8.2 0 0 1 7.10,4.10 L3.12,1.80 A3.6,3.6 0 0 0 3.12,-1.80Z" fill="#3a3a39"/>
<path d="M0.00,3.60 L0.00,8.20 A8.2,8.2 0 0 1 -7.10,4.10 L-3.12,1.80 A3.6,3.6 0 0 0 0.00,3.60Z" fill="#3a3a39"/>
<path d="M-3.12,-1.80 L-7.10,-4.10 A8.2,8.2 0 0 1 -0.00,-8.20 L-0.00,-3.60 A3.6,3.6 0 0 0 -3.12,-1.80Z" fill="#3a3a39"/>
<circle r="3.25" fill="#fff" stroke="#3a3a39" stroke-width="1.1"/>
</g>
<g transform="translate(492.4,314.9) scale(1.000)">
<rect x="-10.85" y="-10.85" width="21.7" height="21.7" fill="#3a3a39"/>
<circle r="9.9" fill="#fff"/>
<path d="M3.12,-1.80 L7.10,-4.10 A8.2,8.2 0 0 1 7.10,4.10 L3.12,1.80 A3.6,3.6 0 0 0 3.12,-1.80Z" fill="#3a3a39"/>
<path d="M0.00,3.60 L0.00,8.20 A8.2,8.2 0 0 1 -7.10,4.10 L-3.12,1.80 A3.6,3.6 0 0 0 0.00,3.60Z" fill="#3a3a39"/>
<path d="M-3.12,-1.80 L-7.10,-4.10 A8.2,8.2 0 0 1 -0.00,-8.20 L-0.00,-3.60 A3.6,3.6 0 0 0 -3.12,-1.80Z" fill="#3a3a39"/>
<circle r="3.25" fill="#fff" stroke="#3a3a39" stroke-width="1.1"/>
</g>
<g transform="translate(702.0,442.8) scale(1.000)">
<rect x="-10.85" y="-10.85" width="21.7" height="21.7" fill="#3a3a39"/>
<circle r="9.9" fill="#fff"/>
<path d="M3.12,-1.80 L7.10,-4.10 A8.2,8.2 0 0 1 7.10,4.10 L3.12,1.80 A3.6,3.6 0 0 0 3.12,-1.80Z" fill="#3a3a39"/>
<path d="M0.00,3.60 L0.00,8.20 A8.2,8.2 0 0 1 -7.10,4.10 L-3.12,1.80 A3.6,3.6 0 0 0 0.00,3.60Z" fill="#3a3a39"/>
<path d="M-3.12,-1.80 L-7.10,-4.10 A8.2,8.2 0 0 1 -0.00,-8.20 L-0.00,-3.60 A3.6,3.6 0 0 0 -3.12,-1.80Z" fill="#3a3a39"/>
<circle r="3.25" fill="#fff" stroke="#3a3a39" stroke-width="1.1"/>
</g>
<path d="M133.9,557.4H160" stroke="#5c5c5c" stroke-width="1.15" fill="none"/>
<path d="M377.5,524H461.5" stroke="#5c5c5c" stroke-width="1.15" fill="none"/>
<path d="M701.8,453.7V523.4H713.5" stroke="#5c5c5c" stroke-width="1.15" fill="none"/>
<path d="M901.7,377V417.4" stroke="#5c5c5c" stroke-width="1.15" fill="none"/>
<circle cx="25.4" cy="530.1" r="21.2" fill="none" stroke="#e8414f" stroke-width="1.7"/>
<path d="M25.5,552.5V676.3H47" fill="none" stroke="#e8414f" stroke-width="1.8"/>
<path d="M19.4,559.3L25.5,552.2L31.6,559.3" fill="none" stroke="#e8414f" stroke-width="1.6"/>
<g transform="translate(43.2,474.4) rotate(-9.6)">
<text x="0.0" y="0.0" font-size="28.5" font-weight="bold" fill="#4cc09a" text-anchor="start" textLength="37.5" lengthAdjust="spacingAndGlyphs" stroke="#4cc09a" stroke-width="1.1" stroke-linejoin="round">7,9</text>
<path d="M0,0V-100M0,-27L50,-67M18,-41.5L53,0M71,0V-67M71,-46C71,-60 81,-68 95,-68C110,-68 119.5,-60 119.5,-45V0M119.5,-45C119.5,-60 129,-68 143.5,-68C158,-68 168,-60 168,-45V0" transform="translate(50.9,0.0) rotate(0) scale(0.2040,0.2040)" fill="none" stroke="#4cc09a" stroke-width="9.31" stroke-linejoin="miter"/>
</g>
<g transform="translate(214.7,442.0) rotate(-10)">
<text x="0.0" y="0.0" font-size="28.5" font-weight="bold" fill="#4cc09a" text-anchor="start" textLength="16.0" lengthAdjust="spacingAndGlyphs" stroke="#4cc09a" stroke-width="1.1" stroke-linejoin="round">9</text>
<path d="M0,0V-100M0,-27L50,-67M18,-41.5L53,0M71,0V-67M71,-46C71,-60 81,-68 95,-68C110,-68 119.5,-60 119.5,-45V0M119.5,-45C119.5,-60 129,-68 143.5,-68C158,-68 168,-60 168,-45V0" transform="translate(25.7,0.0) rotate(0) scale(0.2040,0.2040)" fill="none" stroke="#4cc09a" stroke-width="9.31" stroke-linejoin="miter"/>
</g>
<g transform="translate(375.6,413.3) rotate(-10.2)">
<text x="0.0" y="0.0" font-size="28.5" font-weight="bold" fill="#4cc09a" text-anchor="start" textLength="55.0" lengthAdjust="spacingAndGlyphs" stroke="#4cc09a" stroke-width="1.1" stroke-linejoin="round">12,2</text>
<path d="M0,0V-100M0,-27L50,-67M18,-41.5L53,0M71,0V-67M71,-46C71,-60 81,-68 95,-68C110,-68 119.5,-60 119.5,-45V0M119.5,-45C119.5,-60 129,-68 143.5,-68C158,-68 168,-60 168,-45V0" transform="translate(64.7,0.0) rotate(0) scale(0.2040,0.2040)" fill="none" stroke="#4cc09a" stroke-width="9.31" stroke-linejoin="miter"/>
</g>
<g transform="translate(589.2,373.6) rotate(-9.8)">
<text x="0.0" y="0.0" font-size="28.5" font-weight="bold" fill="#4cc09a" text-anchor="start" textLength="55.0" lengthAdjust="spacingAndGlyphs" stroke="#4cc09a" stroke-width="1.1" stroke-linejoin="round">15,2</text>
<path d="M0,0V-100M0,-27L50,-67M18,-41.5L53,0M71,0V-67M71,-46C71,-60 81,-68 95,-68C110,-68 119.5,-60 119.5,-45V0M119.5,-45C119.5,-60 129,-68 143.5,-68C158,-68 168,-60 168,-45V0" transform="translate(64.7,0.0) rotate(0) scale(0.2040,0.2040)" fill="none" stroke="#4cc09a" stroke-width="9.31" stroke-linejoin="miter"/>
</g>
<g transform="translate(835.5,330.3) rotate(-9.8)">
<text x="0.0" y="0.0" font-size="28.5" font-weight="bold" fill="#4cc09a" text-anchor="start" textLength="31.4" lengthAdjust="spacingAndGlyphs" stroke="#4cc09a" stroke-width="1.1" stroke-linejoin="round">13</text>
<path d="M0,0V-100M0,-27L50,-67M18,-41.5L53,0M71,0V-67M71,-46C71,-60 81,-68 95,-68C110,-68 119.5,-60 119.5,-45V0M119.5,-45C119.5,-60 129,-68 143.5,-68C158,-68 168,-60 168,-45V0" transform="translate(41.1,0.0) rotate(0) scale(0.2040,0.2040)" fill="none" stroke="#4cc09a" stroke-width="9.31" stroke-linejoin="miter"/>
</g>
<text x="258.0" y="267.0" font-size="23" font-weight="normal" fill="#3c3c3b" text-anchor="start" textLength="50.0" lengthAdjust="spacingAndGlyphs">Rami</text>
<text x="258.0" y="291.0" font-size="23" font-weight="normal" fill="#3c3c3b" text-anchor="start" textLength="170.5" lengthAdjust="spacingAndGlyphs">di comunicazione</text>
<text x="424.8" y="343.6" font-size="23" font-weight="normal" fill="#3c3c3b" text-anchor="end" textLength="58.0" lengthAdjust="spacingAndGlyphs">Binari</text>
<text x="424.8" y="367.6" font-size="23" font-weight="normal" fill="#3c3c3b" text-anchor="end" textLength="134.5" lengthAdjust="spacingAndGlyphs">di precedenza</text>
<text x="546.0" y="267.0" font-size="23" font-weight="normal" fill="#3c3c3b" text-anchor="start" textLength="50.0" lengthAdjust="spacingAndGlyphs">Pozzi</text>
<text x="165.6" y="567.2" font-size="23.4" font-weight="bold" fill="#3c3c3b" text-anchor="start" textLength="258.0" lengthAdjust="spacingAndGlyphs" stroke="#3c3c3b" stroke-width="0.7" stroke-linejoin="round">Saint-Martin-la-Porte</text>
<text x="165.7" y="592.8" font-size="22.5" font-weight="normal" fill="#3c3c3b" text-anchor="start" textLength="115.5" lengthAdjust="spacingAndGlyphs">Discenderia</text>
<text x="463.8" y="533.3" font-size="23.8" font-weight="bold" fill="#3c3c3b" text-anchor="start" textLength="88.5" lengthAdjust="spacingAndGlyphs" stroke="#3c3c3b" stroke-width="0.8" stroke-linejoin="round">La Praz</text>
<text x="463.9" y="558.7" font-size="22.5" font-weight="normal" fill="#3c3c3b" text-anchor="start" textLength="184.0" lengthAdjust="spacingAndGlyphs">Discenderia e area</text>
<text x="463.6" y="583.0" font-size="22.5" font-weight="normal" fill="#3c3c3b" text-anchor="start" textLength="116.0" lengthAdjust="spacingAndGlyphs">di sicurezza</text>
<text x="717.4" y="533.2" font-size="23.6" font-weight="bold" fill="#3c3c3b" text-anchor="start" textLength="321.5" lengthAdjust="spacingAndGlyphs" stroke="#3c3c3b" stroke-width="0.6" stroke-linejoin="round">Villarodin-Bourget/Modane</text>
<text x="717.1" y="557.8" font-size="22.5" font-weight="normal" fill="#3c3c3b" text-anchor="start" textLength="304.5" lengthAdjust="spacingAndGlyphs">Discenderia e area di sicurezza</text>
<text x="902.0" y="439.9" font-size="24" font-weight="bold" fill="#3c3c3b" text-anchor="middle" textLength="159.5" lengthAdjust="spacingAndGlyphs" stroke="#3c3c3b" stroke-width="0.6" stroke-linejoin="round">La Maddalena</text>
<text x="902.0" y="466.0" font-size="22.5" font-weight="normal" fill="#3c3c3b" text-anchor="middle" textLength="199.5" lengthAdjust="spacingAndGlyphs">Cunicolo esplorativo</text>
<text x="901.5" y="490.5" font-size="22.5" font-weight="normal" fill="#3c3c3b" text-anchor="middle" textLength="180.5" lengthAdjust="spacingAndGlyphs">e area di sicurezza</text>
<text x="49.4" y="685.3" font-size="25.6" font-weight="bold" fill="#e8414f" text-anchor="start" textLength="280.0" lengthAdjust="spacingAndGlyphs" stroke="#e8414f" stroke-width="0.8" stroke-linejoin="round">Saint-Julien-Montdenis</text>
<text x="49.4" y="710.8" font-size="23.1" font-weight="bold" fill="#17939b" text-anchor="start" textLength="266.0" lengthAdjust="spacingAndGlyphs" stroke="#17939b" stroke-width="0.7" stroke-linejoin="round">Portale d’entrata francese</text>
<text x="49.1" y="736.0" font-size="24" font-weight="normal" fill="#17939b" text-anchor="start" textLength="279.0" lengthAdjust="spacingAndGlyphs">(Area di sicurezza all’aperto)</text>
<text x="718.5" y="651.3" font-size="20.4" font-weight="bold" fill="#3c3c3b" text-anchor="start" textLength="85.5" lengthAdjust="spacingAndGlyphs" stroke="#3c3c3b" stroke-width="0.6" stroke-linejoin="round">LEGENDA</text>
<path d="M717.4,658.3H1012.5" stroke="#454545" stroke-width="1.7" stroke-dasharray="0.01 5.03" stroke-linecap="round" fill="none"/>
<g transform="translate(726.9,672.5) scale(0.880)">
<rect x="-10.85" y="-10.85" width="21.7" height="21.7" fill="#3a3a39"/>
<circle r="9.9" fill="#fff"/>
<path d="M3.12,-1.80 L7.10,-4.10 A8.2,8.2 0 0 1 7.10,4.10 L3.12,1.80 A3.6,3.6 0 0 0 3.12,-1.80Z" fill="#3a3a39"/>
<path d="M0.00,3.60 L0.00,8.20 A8.2,8.2 0 0 1 -7.10,4.10 L-3.12,1.80 A3.6,3.6 0 0 0 0.00,3.60Z" fill="#3a3a39"/>
<path d="M-3.12,-1.80 L-7.10,-4.10 A8.2,8.2 0 0 1 -0.00,-8.20 L-0.00,-3.60 A3.6,3.6 0 0 0 -3.12,-1.80Z" fill="#3a3a39"/>
<circle r="3.25" fill="#fff" stroke="#3a3a39" stroke-width="1.1"/>
</g>
<text x="739.6" y="679.8" font-size="22.6" font-weight="normal" fill="#555554" text-anchor="start" textLength="273.5" lengthAdjust="spacingAndGlyphs">CENTRALE DI VENTILAZIONE</text>
<text x="955.8" y="749.2" font-size="39" font-weight="normal" fill="#231f20" text-anchor="start" textLength="56.5" lengthAdjust="spacingAndGlyphs" stroke="#231f20" stroke-width="1.7" stroke-linejoin="round">agi</text>
<rect x="957" y="763" width="54.2" height="4.5" fill="#f9d616"/>
<text x="957.0" y="779.0" font-size="9.8" font-weight="normal" fill="#4d4d4d" text-anchor="start" textLength="54.2" lengthAdjust="spacingAndGlyphs" stroke="#4d4d4d" stroke-width="0.4" stroke-linejoin="round">agenzia italia</text>
<circle cx="938.5" cy="764.4" r="9.9" fill="none" stroke="#5a5655" stroke-width="2.6"/>
<path d="M942.3,761.3A4.7,4.7 0 1 0 942.3,767.5" fill="none" stroke="#5a5655" stroke-width="2.5"/>
<rect x="0" y="0" width="1058" height="1" fill="#e6f7f7"/><rect x="1057" y="0" width="1" height="793" fill="#eefafa"/><rect x="0" y="792" width="1058" height="1" fill="#d6f3f2"/>
</svg></body></html>
